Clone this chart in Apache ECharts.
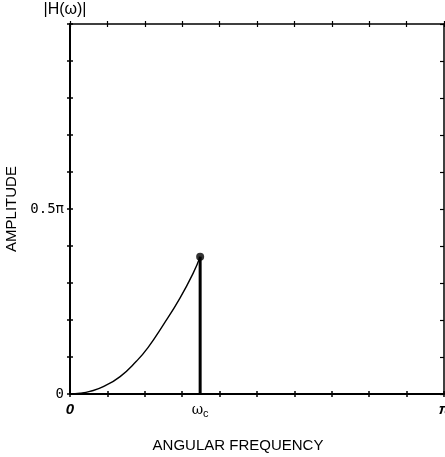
<!DOCTYPE html>
<html>
<head>
<meta charset="utf-8">
<script src="https://cdn.jsdelivr.net/npm/echarts@6/dist/echarts.min.js"></script>
<style>
html,body{margin:0;padding:0;background:#fff;}
#main{width:445px;height:457px;}
</style>
</head>
<body>
<div id="main"></div>
<script>
// Values in multiples of pi
const curveX = [0, 0.027, 0.053, 0.089, 0.134, 0.178, 0.209, 0.249, 0.294, 0.330, 0.348];
const curveY = [0, 0.002, 0.007, 0.020, 0.047, 0.089, 0.126, 0.186, 0.259, 0.328, 0.371];
const cutoffX = 0.348;
const peakY = 0.371;
const xLabelValues = [0, cutoffX, 1];
const xLabelTexts = ['{i|0}', '{w|ω}{s|c}', '{i|π}'];
const yLabelValues = [0, 0.5];
const yLabelTexts = ['0', '0.5π'];

const curveData = curveX.map((x, i) => [x, curveY[i]]);
const stemData = [[cutoffX, 0], [cutoffX, peakY]];

const chart = echarts.init(document.getElementById('main'));
const black = '#000';
const baseX = { type: 'value', min: 0, max: 1, interval: 0.1, gridIndex: 0, splitLine: { show: false } };
const baseY = { type: 'value', min: 0, max: 1, interval: 0.1, gridIndex: 0, splitLine: { show: false } };

chart.setOption({
  animation: false,
  backgroundColor: '#fff',
  grid: { left: 70, right: 1, top: 24, bottom: 63, containLabel: false, outerBoundsMode: 'none' },
  xAxis: [
    Object.assign({}, baseX, {
      position: 'bottom',
      axisLine: { onZero: false, lineStyle: { color: black, width: 2 } },
      axisTick: { inside: false, length: 3, lineStyle: { color: black, width: 1.5 } },
      axisLabel: {
        customValues: xLabelValues,
        margin: 8,
        hideOverlap: false,
        formatter: function (v) {
          const idx = xLabelValues.findIndex(t => Math.abs(t - v) < 1e-6);
          return idx >= 0 ? xLabelTexts[idx] : '';
        },
        rich: {
          i: { fontFamily: 'Liberation Sans', fontStyle: 'italic', fontWeight: 'bold', fontSize: 15, color: black },
          w: { fontFamily: 'DejaVu Serif', fontSize: 14, color: black },
          s: { fontFamily: 'Liberation Sans', fontSize: 11, color: black, verticalAlign: 'bottom', padding: [6, 0, 0, 0] }
        }
      },
      name: 'ANGULAR FREQUENCY',
      nameLocation: 'middle',
      nameGap: 44,
      nameTextStyle: { fontFamily: 'Liberation Sans', fontSize: 15, color: black, padding: [0, 38, 0, 0] }
    }),
    Object.assign({}, baseX, {
      position: 'bottom',
      axisLine: { show: false, onZero: false },
      axisTick: { inside: true, length: 3, lineStyle: { color: black, width: 1.5 } },
      axisLabel: { show: false }
    }),
    Object.assign({}, baseX, {
      position: 'top',
      axisLine: { onZero: false, lineStyle: { color: black, width: 1.5 } },
      axisTick: { inside: true, length: 3, lineStyle: { color: black, width: 1.2 } },
      axisLabel: { show: false }
    }),
    Object.assign({}, baseX, {
      position: 'top',
      axisLine: { show: false, onZero: false },
      axisTick: { inside: false, length: 3, lineStyle: { color: black, width: 1.2 } },
      axisLabel: { show: false }
    })
  ],
  yAxis: [
    Object.assign({}, baseY, {
      position: 'left',
      axisLine: { onZero: false, lineStyle: { color: black, width: 2 } },
      axisTick: { inside: false, length: 3, lineStyle: { color: black, width: 1.5 } },
      axisLabel: {
        customValues: yLabelValues,
        margin: 6,
        fontFamily: 'DejaVu Sans Mono',
        fontSize: 14,
        color: black,
        formatter: function (v) {
          const idx = yLabelValues.findIndex(t => Math.abs(t - v) < 1e-6);
          return idx >= 0 ? yLabelTexts[idx] : '';
        }
      },
      name: 'AMPLITUDE',
      nameLocation: 'middle',
      nameRotate: 90,
      nameGap: 46,
      nameTextStyle: { fontFamily: 'Liberation Sans', fontSize: 15, color: black }
    }),
    Object.assign({}, baseY, {
      position: 'left',
      axisLine: { show: false, onZero: false },
      axisTick: { inside: true, length: 3, lineStyle: { color: black, width: 1.5 } },
      axisLabel: { show: false },
      name: '|H(ω)|',
      nameLocation: 'end',
      nameGap: 6,
      nameTextStyle: { fontFamily: 'Liberation Sans', fontSize: 16, color: black, padding: [0, 10, 0, 0] }
    }),
    Object.assign({}, baseY, {
      position: 'right',
      axisLine: { onZero: false, lineStyle: { color: black, width: 1.5 } },
      axisTick: { inside: true, length: 4, lineStyle: { color: black, width: 1.2 } },
      axisLabel: { show: false }
    })
  ],
  series: [
    {
      type: 'line',
      xAxisIndex: 0, yAxisIndex: 0,
      data: curveData,
      smooth: 0.5,
      showSymbol: false,
      lineStyle: { color: black, width: 1.4 }
    },
    {
      type: 'line',
      xAxisIndex: 0, yAxisIndex: 0,
      data: stemData,
      showSymbol: false,
      lineStyle: { color: black, width: 3 }
    },
    {
      type: 'scatter',
      xAxisIndex: 0, yAxisIndex: 0,
      data: [[cutoffX, peakY]],
      symbol: 'circle',
      symbolSize: 8,
      itemStyle: { color: black }
    }
  ]
});
</script>
</body>
</html>
